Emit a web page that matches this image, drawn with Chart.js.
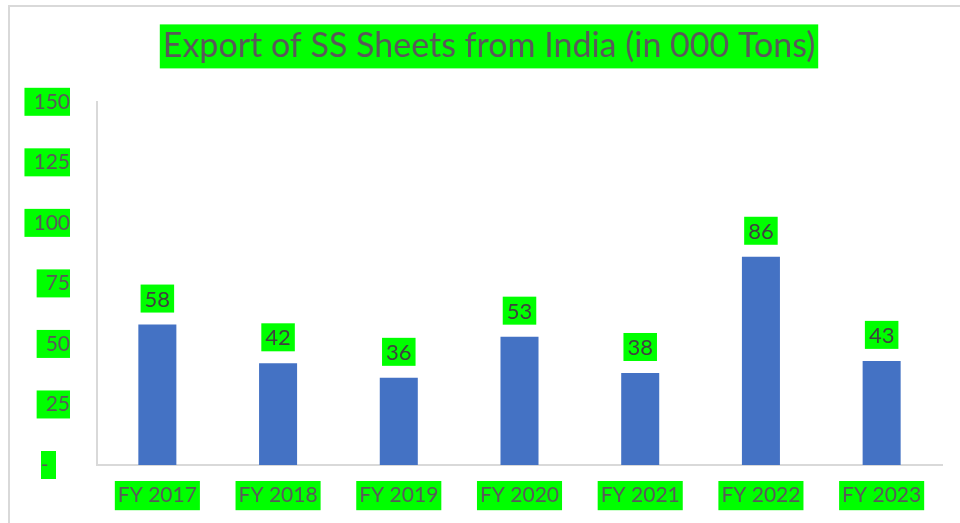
<!DOCTYPE html>
<html>
<head>
<meta charset="utf-8">
<script src="https://cdn.jsdelivr.net/npm/chart.js@4.4.0/dist/chart.umd.min.js"></script>
<style>
    body { margin: 0; background: #ffffff; }
    #wrap { position: relative; width: 960px; height: 523px; overflow: hidden; }
    #marco { position: absolute; left: 8px; top: 5px; width: 1000px; height: 600px;
             border-left: 2px solid #d9d9d9; border-top: 2px solid #d9d9d9; }
    canvas { position: absolute; left: 0; top: 0; }
</style>
</head>
<body>
<div id="wrap">
    <div id="marco"></div>
    <canvas id="chartExport" width="960" height="523"></canvas>
</div>
<script>
const categorias = ["FY 2017", "FY 2018", "FY 2019", "FY 2020", "FY 2021", "FY 2022", "FY 2023"];
const exportaciones = [58, 42, 36, 53, 38, 86, 43];
const ticksY = [0, 25, 50, 75, 100, 125, 150];
const titulo = "Export of SS Sheets from India (in 000 Tons)";

const VERDE = "#00ff00";
const GRIS = "#595959";
const FUENTE = "Lato, 'Open Sans', sans-serif";

// fondos verdes: titulo y etiquetas del eje Y (se pintan antes que el texto)
const fondosVerdes = {
    id: "fondosVerdes",
    beforeDraw(chart) {
        const ctx = chart.ctx;
        ctx.save();
        ctx.fillStyle = VERDE;

        const t = chart.titleBlock;
        const opts = chart.options.plugins.title;
        ctx.font = `${opts.font.size}px ${FUENTE}`;
        const w = ctx.measureText(titulo).width;
        const cx = (t.left + t.right) / 2;
        const cy = t.top + opts.padding.top + opts.font.size * 1.2 / 2;
        ctx.fillRect(cx - w / 2 - 3, cy - 22, w + 6, 44);

        const y = chart.scales.y;
        const fy = chart.options.scales.y.ticks.font.size;
        ctx.font = `${fy}px ${FUENTE}`;
        const derecha = y.right - chart.options.scales.y.ticks.padding;
        ticksY.forEach(v => {
            const py = y.getPixelForValue(v);
            if (v === 0) {
                ctx.fillRect(41, py - 14, 15, 28);
            } else {
                const tw = ctx.measureText(String(v)).width;
                ctx.fillRect(derecha - tw - 9, py - 14, tw + 9, 28);
            }
        });
        ctx.restore();
    }
};

// etiquetas de valor encima de cada barra
const etiquetasValor = {
    id: "etiquetasValor",
    afterDatasetsDraw(chart) {
        const ctx = chart.ctx;
        const meta = chart.getDatasetMeta(0);
        ctx.save();
        ctx.font = `22px ${FUENTE}`;
        ctx.textAlign = "center";
        ctx.textBaseline = "middle";
        meta.data.forEach((barra, i) => {
            const txt = String(exportaciones[i]);
            const w = ctx.measureText(txt).width;
            const abajo = barra.y - 12;
            ctx.fillStyle = VERDE;
            ctx.fillRect(barra.x - w / 2 - 4, abajo - 28, w + 8, 28);
            ctx.fillStyle = "#404040";
            ctx.fillText(txt, barra.x, abajo - 13);
        });
        ctx.restore();
    }
};

const ctx = document.getElementById("chartExport").getContext("2d");

new Chart(ctx, {
    type: "bar",
    data: {
        labels: categorias,
        datasets: [{
            label: "Export",
            data: exportaciones,
            backgroundColor: "#4472c4",
            categoryPercentage: 1,
            barPercentage: 0.315
        }]
    },
    options: {
        responsive: false,
        animation: false,
        layout: { padding: { left: 36, right: 18, top: 0, bottom: 0 } },
        plugins: {
            legend: { display: false },
            tooltip: { enabled: false },
            title: {
                display: true,
                text: titulo,
                color: GRIS,
                font: { family: FUENTE, size: 34, weight: "normal" },
                padding: { top: 26, bottom: 35 }
            }
        },
        scales: {
            x: {
                grid: { display: false, drawTicks: false },
                border: { display: true, color: "#d9d9d9", width: 2 },
                ticks: {
                    color: GRIS,
                    font: { family: FUENTE, size: 21 },
                    padding: 18,
                    maxRotation: 0,
                    showLabelBackdrop: true,
                    backdropColor: VERDE,
                    backdropPadding: { top: 2, bottom: 2, left: 3, right: 3 }
                },
                afterFit(scale) { scale.height = 58; }
            },
            y: {
                min: 0,
                max: 150,
                afterBuildTicks(scale) { scale.ticks = ticksY.map(v => ({ value: v })); },
                grid: { display: false, drawTicks: false },
                border: { display: true, color: "#d9d9d9", width: 2 },
                ticks: {
                    color: GRIS,
                    font: { family: FUENTE, size: 21 },
                    padding: 27,
                    callback: v => v === 0 ? "-    " : v
                },
                afterFit(scale) { scale.width = 61; }
            }
        }
    },
    plugins: [fondosVerdes, etiquetasValor]
});
</script>
</body>
</html>
